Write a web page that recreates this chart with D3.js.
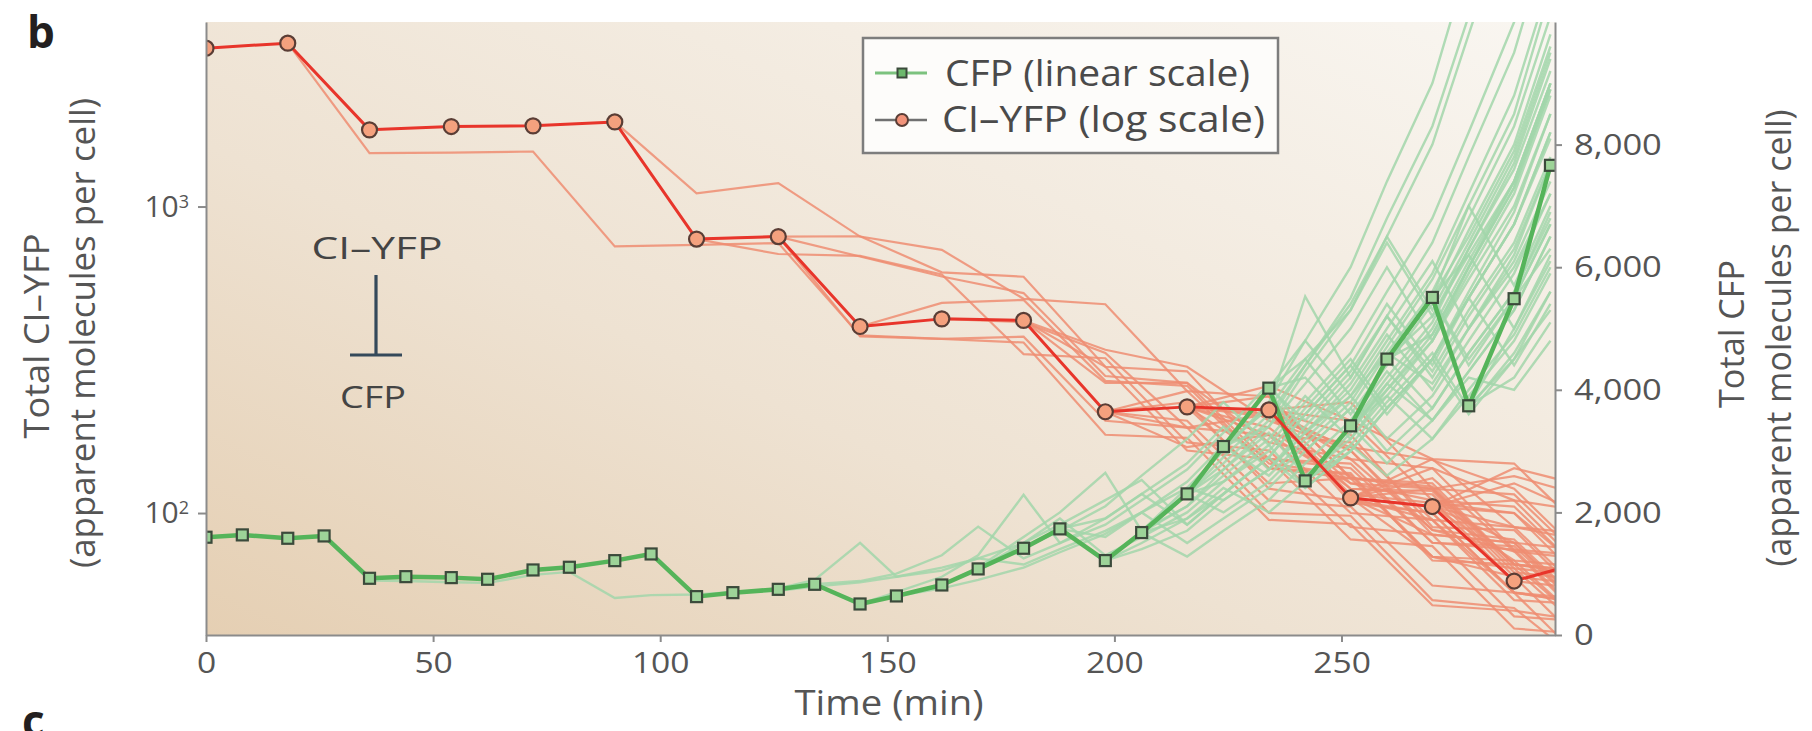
<!DOCTYPE html>
<html>
<head>
<meta charset="utf-8">
<script src="https://cdn.jsdelivr.net/npm/d3@7"></script>
<style>
  html, body { margin: 0; padding: 0; background: #ffffff; }
  svg { display: block; }
  text { font-family: "Open Sans", "Noto Sans", "DejaVu Sans", sans-serif; }
</style>
</head>
<body>
<svg id="chart" width="1812" height="731"></svg>
<script>
// ---- time grids (min) ----
const timesCFP = [0,8,18,26,36,44,54,62,72,80,90,98,108,116,126,134,144,152,162,170,180,188,198,206,216,224,234,242,252,260,270,278,288,296];
const timesYFP = [0,18,36,54,72,90,108,126,144,162,180,198,216,234,252,270,288,306];

// ---- highlighted lineage ----
const cfpMain = [1595,1633,1578,1616,925,952,936,909,1061,1105,1213,1322,626,691,745,827,506,637,816,1078,1415,1731,1214,1671,2302,3075,4027,2514,3412,4501,5507,3739,5486,7662];
const yfpMain = [3286,3412,1779,1824,1833,1888,783,798,406,430,425,214,222,217,112,105,60,71];

// ---- other lineages: index into the time grid where each branch starts, then its values ----
const cfpBranchStart = [3,13,15,16,18,19,21,22,23,24,25,26,27,28,29,30,31,20,22,24,26,17,28,29,30,25,27,23,26,28,24,29,
                        25,27,28,26,29,30,31,24,23,22,21,30,32,31,24,26];
const cfpBranches = [
  [1616,890,880,860,850,980,1030,604,650,660,700,720,790,860,950,1100,1250,1150,1400,1700,2000,2400,2200,2700,3300,3900,4600,4100,5000,6000,7200],
  [691,760,900,1502,952,1050,1250,1500,1900,1300,1600,2000,2500,3100,2400,3000,3700,4500,3600,4500,5600],
  [827,880,1000,1300,1768,1250,1500,1900,2300,2800,3400,2700,3300,4000,4900,4000,5000,6100,7400],
  [506,700,950,1300,2286,1500,1800,2200,2700,3300,4100,3300,4100,5000,6100,5000,6200,7700],
  [816,1100,1600,2000,2645,1700,2100,2600,3200,3900,3200,4000,4900,6000,7300,8900],
  [1078,1500,1800,2200,2530,1800,2300,2900,3600,4400,3600,4500,5600,6900,8500],
  [1731,1600,2000,2500,3100,3700,5523,4200,5200,6400,7800,9500,11500],
  [1214,1700,2400,3000,3800,4800,6000,7400,9000,11000,13000,15000],
  [1671,1280,1700,2200,2800,3500,4300,3500,4300,5300,6500],
  [2302,2700,3300,2600,3200,3900,4800,5900,7200,8800],
  [3075,3400,4100,5000,6000,4800,6000,7400,9000],
  [4027,3000,3700,4600,5600,6800,8300,10100],
  [2514,3000,3700,4500,5500,4400,5400],
  [3412,2800,3500,4300,5300,6500],
  [4501,3700,4600,5600,6900],
  [5507,6500,7900,9600],
  [3739,4500,5300],
  [1415,1700,2100,2600,3200,3800,3100,3800,4600,5600,6800,8200,10000,12000],
  [1214,1500,1900,2400,2000,2500,3100,3800,4600,3700,4600,5600],
  [2302,2000,2500,3100,3800,4700,5800,7000,5700,7000],
  [4027,4800,3900,4800,5900,7200,8800,10700],
  [637,760,900,1100,1350,1650,2000,1500,1900,2400,3000,3700,3000,3700,4600,5600,6800],
  [3412,4200,5100,6300,7700,9400],
  [4501,5500,4500,5500,6700],
  [5507,4400,5500,6700],
  [3075,2600,3200,3900,3200,3900,4800,5900,7200],
  [2514,3100,2600,3200,3900,4800,5900],
  [1671,2100,2700,3400,4300,5300,6500,8000,9800,12000,14000],
  [4027,4500,5300,6400,5200,6300,7600,9200],
  [3412,4000,4800,5800,7000,8500],
  [2302,2900,3600,4400,5400,6500,5300,6400,7800,9500],
  [4501,5200,6200,7400,9000],
  [3075,3700,4500,3600,4400,5400,6600,8000,9800],
  [2514,3300,4100,5000,6100,7400,9000],
  [3412,3900,3200,4000,4900,6000],
  [4027,3500,4300,5200,4300,5300,6400,7800],
  [4501,4900,6000,7300,8900],
  [5507,6200,5000,6200],
  [3739,5000,6100],
  [2302,2500,3000,3700,4500,3700,4500,5500,6700,8200],
  [1671,1900,2300,2900,2400,3000,3700,4500,5500,6700,8100],
  [1214,1400,1700,2200,2700,3400,4200,5200,4200,5200,6300,7700],
  [1731,1900,2300,1800,2300,2900,3600,4400,5400,4400,5500,6700,8200],
  [5507,7000,8500,10500],
  [5486,6300],
  [3739,4200,5100],
  [2302,2800,3500,4400,5500,6800,8300,10100,12000,14000],
  [4027,4200,3400,4100,3500,4200,4000,4800]
];

const yfpBranchStart = [1,5,6,7,6,8,7,9,10,10,11,11,12,12,12,13,13,13,14,14,14,15,11,12,14,15,15,13,12,
                        11,12,13,13,14,14,14,15,15,15,12,13,14,11,10,12];
const yfpBranches = [
  [3412,1493,1500,1512,741,750,760,380,370,360,180,176,95,92,50,48,44],
  [1888,1105,1192,798,722,500,480,250,240,130,122,68,62],
  [783,700,690,600,330,320,170,160,90,85,46,44],
  [798,800,610,590,300,290,150,140,80,76,42],
  [783,798,687,591,522,280,266,145,133,72,66,38],
  [406,485,496,270,260,140,135,70,68,40],
  [798,377,370,376,200,190,100,98,52,49,30],
  [430,420,333,190,180,125,110,60,56],
  [425,341,300,200,160,85,80,44],
  [425,266,266,170,150,88,75,41],
  [214,190,210,120,118,64,60],
  [214,164,180,100,95,52,50],
  [222,125,130,72,70,40],
  [222,206,164,149,120,66],
  [222,190,120,115,62,58],
  [217,150,140,76,72],
  [217,108,100,55,52],
  [217,180,90,88,48],
  [112,120,132,111],
  [112,72,62,34],
  [112,95,55,50],
  [105,90,85],
  [214,230,120,110,100,55,50],
  [222,240,130,125,68,64],
  [112,140,110,100],
  [105,125,95],
  [105,70,66],
  [217,200,150,145,80],
  [222,260,200,110,105,58],
  [214,250,140,130,120,66,62],
  [222,150,145,80,78,44],
  [217,230,120,115,64],
  [217,125,120,68,64],
  [112,150,90,80],
  [112,105,100,60],
  [112,130,75,70],
  [105,110,60],
  [105,80,75],
  [105,140,120],
  [222,180,170,95,90,50],
  [217,160,88,82,46],
  [112,85,80,46],
  [214,200,110,105,58,55,30],
  [425,300,160,150,82,78,42,40],
  [222,210,115,108,100,54]
];

// ---- axis ticks and labels ----
const xTicks = [0,50,100,150,200,250];
const leftTicks = [100,1000];
const rightTicks = [0,2000,4000,6000,8000];
const legendLabels = ["CFP (linear scale)", "CI\u2013YFP (log scale)"];

// ---- layout ----
const plot = { left: 206, right: 1555, top: 22, bottom: 635 };

const svg = d3.select("#chart");

const x = d3.scaleLinear().domain([0, 297]).range([plot.left, plot.right]);
const yLog = d3.scaleLog().domain([40, 4000]).range([plot.bottom, plot.top]);
const yLin = d3.scaleLinear().domain([0, 10000]).range([plot.bottom, plot.top]);

// the figure's typeface runs wide; these widen Open Sans to the same measure
function fitWidth(sel, w) {
  sel.attr("textLength", w).attr("lengthAdjust", "spacingAndGlyphs");
}
function stretch(sel, k) {
  sel.each(function () {
    const w = this.getComputedTextLength();
    d3.select(this).attr("textLength", w * k).attr("lengthAdjust", "spacingAndGlyphs");
  });
}

// ---- background ----
const defs = svg.append("defs");
const grad = defs.append("linearGradient").attr("id", "bg")
  .attr("x1", "0").attr("y1", "1").attr("x2", "1").attr("y2", "0");
grad.append("stop").attr("offset", "0").attr("stop-color", "#e5cfb3");
grad.append("stop").attr("offset", "0.4").attr("stop-color", "#eee2d2");
grad.append("stop").attr("offset", "1").attr("stop-color", "#f9f6f1");

defs.append("clipPath").attr("id", "plotClip")
  .append("rect")
  .attr("x", plot.left).attr("y", plot.top)
  .attr("width", plot.right - plot.left).attr("height", plot.bottom - plot.top);

svg.append("rect")
  .attr("x", plot.left).attr("y", plot.top)
  .attr("width", plot.right - plot.left).attr("height", plot.bottom - plot.top)
  .attr("fill", "url(#bg)");

// ---- traces ----
const lineCFP = d3.line().x(d => x(d.t)).y(d => yLin(d.v));
const lineYFP = d3.line().x(d => x(d.t)).y(d => yLog(d.v));

const traces = svg.append("g").attr("clip-path", "url(#plotClip)");

const yfpBranchData = yfpBranches.map((vals, i) =>
  vals.map((v, k) => ({ t: timesYFP[yfpBranchStart[i] + k], v })));
const cfpBranchData = cfpBranches.map((vals, i) =>
  vals.map((v, k) => ({ t: timesCFP[cfpBranchStart[i] + k], v })));

traces.append("g").selectAll("path").data(yfpBranchData).join("path")
  .attr("d", lineYFP)
  .attr("fill", "none")
  .attr("stroke", "#ef8d72")
  .attr("stroke-opacity", 0.85)
  .attr("stroke-width", 2.2);

traces.append("g").selectAll("path").data(cfpBranchData).join("path")
  .attr("d", lineCFP)
  .attr("fill", "none")
  .attr("stroke", "#a2d6aa")
  .attr("stroke-opacity", 0.85)
  .attr("stroke-width", 2.4);

const cfpMainData = cfpMain.map((v, i) => ({ t: timesCFP[i], v }));
const yfpMainData = yfpMain.map((v, i) => ({ t: timesYFP[i], v }));

traces.append("path").datum(cfpMainData)
  .attr("d", lineCFP)
  .attr("fill", "none")
  .attr("stroke", "#55b45a")
  .attr("stroke-width", 4.5)
  .attr("stroke-linejoin", "round");

const sq = 11;
traces.append("g").selectAll("rect").data(cfpMainData).join("rect")
  .attr("x", d => x(d.t) - sq / 2)
  .attr("y", d => yLin(d.v) - sq / 2)
  .attr("width", sq).attr("height", sq)
  .attr("fill", "#9dd398")
  .attr("stroke", "#3b4a3b")
  .attr("stroke-width", 2.2);

traces.append("path").datum(yfpMainData)
  .attr("d", lineYFP)
  .attr("fill", "none")
  .attr("stroke", "#e8352b")
  .attr("stroke-width", 3)
  .attr("stroke-linejoin", "round");

traces.append("g").selectAll("circle").data(yfpMainData.filter(d => d.t <= 297)).join("circle")
  .attr("cx", d => x(d.t))
  .attr("cy", d => yLog(d.v))
  .attr("r", 7.5)
  .attr("fill", "#f4a17e")
  .attr("stroke", "#5a3d35")
  .attr("stroke-width", 2.2);

// ---- axes ----
const axisColor = "#8b8b8b";
const textColor = "#555555";

function styleAxis(g) {
  g.select(".domain").attr("stroke", axisColor).attr("stroke-width", 2);
  g.selectAll(".tick line").attr("stroke", axisColor).attr("stroke-width", 2);
  g.selectAll(".tick text").attr("fill", textColor).attr("font-size", 30)
    .attr("font-family", "'Open Sans', sans-serif");
}

const gx = svg.append("g").attr("transform", `translate(0,${plot.bottom})`)
  .call(d3.axisBottom(x).tickValues(xTicks).tickSize(7).tickSizeOuter(0).tickPadding(10));
styleAxis(gx);
stretch(gx.selectAll(".tick text"), 1.12);

const gl = svg.append("g").attr("transform", `translate(${plot.left},0)`)
  .call(d3.axisLeft(yLog).tickValues(leftTicks).tickSize(8).tickSizeOuter(0).tickPadding(9).tickFormat(() => ""));
styleAxis(gl);
gl.selectAll(".tick text").each(function (d) {
  const t = d3.select(this);
  t.append("tspan").text("10");
  t.append("tspan").attr("dy", "-0.5em").attr("font-size", 18).text(Math.round(Math.log10(d)));
});

const gr = svg.append("g").attr("transform", `translate(${plot.right},0)`)
  .call(d3.axisRight(yLin).tickValues(rightTicks).tickSize(7).tickSizeOuter(0).tickPadding(12)
    .tickFormat(d3.format(",")));
styleAxis(gr);
stretch(gr.selectAll(".tick text"), 1.15);

// ---- axis titles ----
svg.append("text").text("Time (min)")
  .attr("x", 889).attr("y", 715).attr("text-anchor", "middle")
  .attr("font-size", 34).attr("fill", textColor)
  .call(fitWidth, 189);

function vTitle(txt, cx, cy, w) {
  svg.append("text").text(txt)
    .attr("transform", `translate(${cx},${cy}) rotate(-90)`)
    .attr("text-anchor", "middle")
    .attr("font-size", 34).attr("fill", textColor)
    .call(fitWidth, w);
}
vTitle("Total CI\u2013YFP", 49, 336, 205);
vTitle("(apparent molecules per cell)", 95, 333, 470);
vTitle("Total CFP", 1744, 334, 148);
vTitle("(apparent molecules per cell)", 1791, 338, 457);

// ---- panel letters ----
svg.append("text").text("b").attr("x", 27).attr("y", 48)
  .attr("font-size", 44).attr("font-weight", 700).attr("fill", "#231f20");
svg.append("text").text("c").attr("x", 22).attr("y", 737)
  .attr("font-size", 44).attr("font-weight", 700).attr("fill", "#231f20");

// ---- repression motif ----
const motifColor = "#444444";
svg.append("text").text("CI\u2013YFP").attr("x", 377).attr("y", 259)
  .attr("text-anchor", "middle").attr("font-size", 31).attr("fill", motifColor)
  .call(fitWidth, 131);
svg.append("line").attr("x1", 376).attr("x2", 376).attr("y1", 275).attr("y2", 355)
  .attr("stroke", "#34495a").attr("stroke-width", 3.2);
svg.append("line").attr("x1", 350).attr("x2", 402).attr("y1", 355).attr("y2", 355)
  .attr("stroke", "#34495a").attr("stroke-width", 3.2);
svg.append("text").text("CFP").attr("x", 373).attr("y", 408)
  .attr("text-anchor", "middle").attr("font-size", 31).attr("fill", motifColor)
  .call(fitWidth, 66);

// ---- legend ----
const lg = svg.append("g");
lg.append("rect").attr("x", 863).attr("y", 38).attr("width", 415).attr("height", 115)
  .attr("fill", "#fdfcfa").attr("stroke", "#7d7d7d").attr("stroke-width", 2.5);

const rowY = [73, 120];
const rowTextY = [86, 132];
const rowWidth = [305, 323];

lg.append("line").attr("x1", 875).attr("x2", 927).attr("y1", rowY[0]).attr("y2", rowY[0])
  .attr("stroke", "#7cc27e").attr("stroke-width", 3);
lg.append("rect").attr("x", 902 - 4.5).attr("y", rowY[0] - 4.5).attr("width", 9).attr("height", 9)
  .attr("fill", "#6cb86c").attr("stroke", "#3b4a3b").attr("stroke-width", 2);
lg.append("line").attr("x1", 875).attr("x2", 927).attr("y1", rowY[1]).attr("y2", rowY[1])
  .attr("stroke", "#707070").attr("stroke-width", 2.5);
lg.append("circle").attr("cx", 902).attr("cy", rowY[1]).attr("r", 6)
  .attr("fill", "#f2937a").attr("stroke", "#5a3d35").attr("stroke-width", 2);

lg.selectAll("text.lab").data(legendLabels).join("text").attr("class", "lab")
  .attr("x", (d, i) => i === 0 ? 945 : 942)
  .attr("y", (d, i) => rowTextY[i])
  .attr("font-size", 36).attr("fill", "#4a4a4a")
  .text(d => d)
  .each(function (d, i) { d3.select(this).call(fitWidth, rowWidth[i]); });
</script>
</body>
</html>
